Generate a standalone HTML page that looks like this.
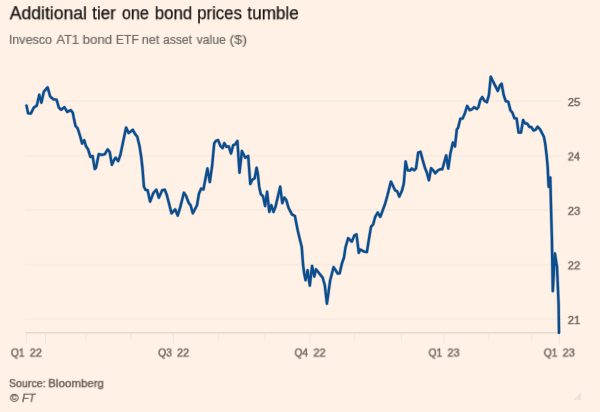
<!DOCTYPE html>
<html><head><meta charset="utf-8"><title>Additional tier one bond prices tumble</title>
<style>
html,body{margin:0;padding:0;}
body{width:600px;height:412px;background:#fff1e5;overflow:hidden;position:relative;font-family:"Liberation Sans",sans-serif;}
span{position:absolute;left:0;top:0;display:block;line-height:20px;white-space:nowrap;transform-origin:0 0;}
.t{font-size:17.6px;color:#141211;-webkit-text-stroke:0.25px #141211;}
.s{font-size:12.1px;color:#6e6863;-webkit-text-stroke:0.2px #6e6863;}
.lab{font-size:10.7px;color:#6b645f;-webkit-text-stroke:0.4px #6b645f;}
.src{font-size:11.7px;color:#6b645f;-webkit-text-stroke:0.45px #6b645f;}
.ft{font-size:11.6px;color:#6b645f;-webkit-text-stroke:0.35px #6b645f;font-style:italic;}
svg{position:absolute;left:0;top:0;}
.g{stroke:#f8eade;stroke-width:1.6;}
.ax{stroke:#e7dace;stroke-width:1.4;}
.tk{stroke:#f2e5d9;stroke-width:1;}
.ln{fill:none;stroke:#0c4d8d;stroke-width:2.4;stroke-linejoin:round;stroke-linecap:round;}
</style></head>
<body>
<svg width="600" height="412" viewBox="0 0 600 412">
<line x1="25" x2="562" y1="101.3" y2="101.3" class="g"/>
<line x1="25" x2="562" y1="155.7" y2="155.7" class="g"/>
<line x1="25" x2="562" y1="210.1" y2="210.1" class="g"/>
<line x1="25" x2="562" y1="264.6" y2="264.6" class="g"/>
<line x1="25" x2="562" y1="319.2" y2="319.2" class="g"/>
<line x1="25" x2="560" y1="332.7" y2="332.7" class="ax"/>
<line x1="26.3" x2="26.3" y1="332.7" y2="343.7" class="tk"/>
<line x1="45.5" x2="45.5" y1="332.7" y2="343.7" class="tk"/>
<line x1="173.3" x2="173.3" y1="332.7" y2="343.7" class="tk"/>
<line x1="310" x2="310" y1="332.7" y2="343.7" class="tk"/>
<line x1="444" x2="444" y1="332.7" y2="343.7" class="tk"/>
<line x1="559.3" x2="559.3" y1="332.7" y2="343.7" class="tk"/>
<line x1="86" x2="86" y1="332.7" y2="340.7" class="tk"/>
<line x1="130.7" x2="130.7" y1="332.7" y2="340.7" class="tk"/>
<line x1="218.3" x2="218.3" y1="332.7" y2="340.7" class="tk"/>
<line x1="265" x2="265" y1="332.7" y2="340.7" class="tk"/>
<line x1="354.3" x2="354.3" y1="332.7" y2="340.7" class="tk"/>
<line x1="401.5" x2="401.5" y1="332.7" y2="340.7" class="tk"/>
<line x1="489" x2="489" y1="332.7" y2="340.7" class="tk"/>
<line x1="531.7" x2="531.7" y1="332.7" y2="340.7" class="tk"/>
<path d="M26.5,105.6 L28.1,113.3 L30.9,113.5 L33.7,107.7 L36.8,105.5 L39.3,94.8 L41.4,102.7 L43.8,91.8 L47.6,87.4 L50.2,96.5 L53.5,99.3 L56.5,99.6 L58.9,107.7 L61.0,109.7 L64.4,107.2 L67.2,111.9 L70.8,110.2 L72.8,112.7 L73.7,117.5 L75.5,126.0 L77.6,128.3 L80.1,136.0 L82.1,143.5 L84.2,140.2 L85.9,146.0 L88.1,149.4 L90.4,156.9 L92.6,156.1 L94.8,169.0 L96.0,167.8 L98.8,154.1 L101.8,154.9 L104.8,154.2 L107.7,149.4 L109.7,151.9 L111.9,164.8 L113.9,160.3 L115.6,157.7 L118.2,161.1 L120.3,155.2 L126.1,127.6 L128.6,133.1 L132.8,129.8 L135.3,134.3 L137.3,136.8 L139.5,146.0 L141.2,156.9 L142.5,168.5 L143.9,186.6 L145.4,189.8 L147.6,190.2 L150.1,201.6 L153.5,192.7 L156.3,189.7 L158.8,197.7 L162.2,190.2 L164.8,189.8 L166.9,195.2 L171.5,213.3 L175.2,209.4 L177.7,215.6 L180.3,206.9 L183.9,192.7 L186.1,196.0 L188.6,202.7 L190.6,205.3 L192.8,213.3 L197.0,205.3 L199.0,193.5 L201.2,188.5 L203.4,189.5 L207.4,168.5 L209.8,182.0 L212.1,166.0 L214.2,143.4 L215.9,140.9 L218.1,140.1 L220.4,145.9 L222.6,148.1 L224.3,143.1 L226.5,146.8 L228.8,146.4 L231.0,153.5 L233.2,145.1 L235.2,144.3 L237.4,140.9 L239.5,172.7 L241.9,151.0 L245.2,157.7 L248.2,156.0 L250.3,184.0 L252.4,179.6 L254.7,178.3 L256.6,167.7 L257.8,173.6 L259.2,186.7 L260.8,194.2 L263.1,196.4 L265.1,206.0 L267.1,191.8 L269.3,211.9 L271.3,205.2 L273.5,211.9 L275.5,206.8 L280.2,186.7 L282.3,203.1 L284.3,197.6 L286.3,200.1 L288.5,207.7 L291.9,214.4 L294.9,216.0 L297.7,230.3 L300.5,242.0 L301.7,246.7 L303.1,265.1 L304.2,273.5 L305.6,280.2 L307.6,270.2 L309.8,285.6 L312.1,266.0 L314.3,276.5 L316.0,269.3 L319.3,273.5 L322.7,277.7 L324.8,285.2 L326.9,303.7 L330.2,280.2 L333.6,267.1 L337.7,273.5 L339.7,273.2 L341.9,263.5 L344.0,257.5 L345.4,247.8 L348.1,238.2 L351.8,241.6 L354.3,235.6 L356.5,234.4 L358.8,252.8 L360.2,249.5 L364.3,251.6 L366.9,252.0 L368.9,239.4 L371.0,226.9 L373.2,224.3 L375.2,216.8 L377.7,212.6 L380.3,216.8 L382.8,210.1 L385.2,203.5 L387.5,195.3 L390.9,181.6 L395.1,190.3 L397.1,191.1 L399.3,196.6 L401.8,191.1 L403.8,183.6 L405.6,161.5 L407.6,170.2 L410.2,170.5 L411.8,168.5 L414.3,170.2 L416.0,168.5 L418.2,152.6 L420.5,151.8 L422.7,160.1 L424.9,167.7 L426.9,172.7 L428.9,180.2 L431.1,168.2 L433.3,170.5 L435.3,173.2 L437.8,170.5 L440.0,169.3 L442.3,169.3 L446.2,155.4 L448.3,168.5 L450.4,153.4 L452.9,142.5 L455.0,146.4 L456.8,129.5 L458.1,127.8 L460.4,118.6 L462.6,118.6 L465.1,112.7 L467.1,106.0 L469.8,110.2 L471.8,109.4 L474.3,107.2 L476.9,108.9 L478.5,106.9 L480.2,100.2 L482.2,97.1 L484.4,100.7 L486.9,102.2 L488.9,95.1 L490.8,76.7 L492.8,80.9 L495.3,85.9 L497.8,90.9 L500.0,85.4 L501.6,83.7 L503.7,95.1 L505.7,101.0 L508.3,101.8 L510.4,110.2 L512.4,112.7 L514.5,118.3 L516.6,118.4 L518.6,132.5 L521.0,132.5 L523.1,120.0 L525.2,123.5 L527.0,123.4 L529.5,127.0 L531.2,127.0 L533.6,130.5 L535.7,129.6 L537.6,126.7 L540.1,129.4 L542.2,133.5 L543.9,136.8 L545.2,143.5 L546.6,155.2 L547.7,167.0 L548.6,186.8 L550.3,177.5 L551.1,210.2 L551.9,239.0 L552.8,291.1 L554.9,253.4 L557.0,266.8 L558.6,304.0 L559.0,332.7" class="ln" style="stroke-width:3.6;stroke-opacity:0.3"/>
<path d="M26.5,105.6 L28.1,113.3 L30.9,113.5 L33.7,107.7 L36.8,105.5 L39.3,94.8 L41.4,102.7 L43.8,91.8 L47.6,87.4 L50.2,96.5 L53.5,99.3 L56.5,99.6 L58.9,107.7 L61.0,109.7 L64.4,107.2 L67.2,111.9 L70.8,110.2 L72.8,112.7 L73.7,117.5 L75.5,126.0 L77.6,128.3 L80.1,136.0 L82.1,143.5 L84.2,140.2 L85.9,146.0 L88.1,149.4 L90.4,156.9 L92.6,156.1 L94.8,169.0 L96.0,167.8 L98.8,154.1 L101.8,154.9 L104.8,154.2 L107.7,149.4 L109.7,151.9 L111.9,164.8 L113.9,160.3 L115.6,157.7 L118.2,161.1 L120.3,155.2 L126.1,127.6 L128.6,133.1 L132.8,129.8 L135.3,134.3 L137.3,136.8 L139.5,146.0 L141.2,156.9 L142.5,168.5 L143.9,186.6 L145.4,189.8 L147.6,190.2 L150.1,201.6 L153.5,192.7 L156.3,189.7 L158.8,197.7 L162.2,190.2 L164.8,189.8 L166.9,195.2 L171.5,213.3 L175.2,209.4 L177.7,215.6 L180.3,206.9 L183.9,192.7 L186.1,196.0 L188.6,202.7 L190.6,205.3 L192.8,213.3 L197.0,205.3 L199.0,193.5 L201.2,188.5 L203.4,189.5 L207.4,168.5 L209.8,182.0 L212.1,166.0 L214.2,143.4 L215.9,140.9 L218.1,140.1 L220.4,145.9 L222.6,148.1 L224.3,143.1 L226.5,146.8 L228.8,146.4 L231.0,153.5 L233.2,145.1 L235.2,144.3 L237.4,140.9 L239.5,172.7 L241.9,151.0 L245.2,157.7 L248.2,156.0 L250.3,184.0 L252.4,179.6 L254.7,178.3 L256.6,167.7 L257.8,173.6 L259.2,186.7 L260.8,194.2 L263.1,196.4 L265.1,206.0 L267.1,191.8 L269.3,211.9 L271.3,205.2 L273.5,211.9 L275.5,206.8 L280.2,186.7 L282.3,203.1 L284.3,197.6 L286.3,200.1 L288.5,207.7 L291.9,214.4 L294.9,216.0 L297.7,230.3 L300.5,242.0 L301.7,246.7 L303.1,265.1 L304.2,273.5 L305.6,280.2 L307.6,270.2 L309.8,285.6 L312.1,266.0 L314.3,276.5 L316.0,269.3 L319.3,273.5 L322.7,277.7 L324.8,285.2 L326.9,303.7 L330.2,280.2 L333.6,267.1 L337.7,273.5 L339.7,273.2 L341.9,263.5 L344.0,257.5 L345.4,247.8 L348.1,238.2 L351.8,241.6 L354.3,235.6 L356.5,234.4 L358.8,252.8 L360.2,249.5 L364.3,251.6 L366.9,252.0 L368.9,239.4 L371.0,226.9 L373.2,224.3 L375.2,216.8 L377.7,212.6 L380.3,216.8 L382.8,210.1 L385.2,203.5 L387.5,195.3 L390.9,181.6 L395.1,190.3 L397.1,191.1 L399.3,196.6 L401.8,191.1 L403.8,183.6 L405.6,161.5 L407.6,170.2 L410.2,170.5 L411.8,168.5 L414.3,170.2 L416.0,168.5 L418.2,152.6 L420.5,151.8 L422.7,160.1 L424.9,167.7 L426.9,172.7 L428.9,180.2 L431.1,168.2 L433.3,170.5 L435.3,173.2 L437.8,170.5 L440.0,169.3 L442.3,169.3 L446.2,155.4 L448.3,168.5 L450.4,153.4 L452.9,142.5 L455.0,146.4 L456.8,129.5 L458.1,127.8 L460.4,118.6 L462.6,118.6 L465.1,112.7 L467.1,106.0 L469.8,110.2 L471.8,109.4 L474.3,107.2 L476.9,108.9 L478.5,106.9 L480.2,100.2 L482.2,97.1 L484.4,100.7 L486.9,102.2 L488.9,95.1 L490.8,76.7 L492.8,80.9 L495.3,85.9 L497.8,90.9 L500.0,85.4 L501.6,83.7 L503.7,95.1 L505.7,101.0 L508.3,101.8 L510.4,110.2 L512.4,112.7 L514.5,118.3 L516.6,118.4 L518.6,132.5 L521.0,132.5 L523.1,120.0 L525.2,123.5 L527.0,123.4 L529.5,127.0 L531.2,127.0 L533.6,130.5 L535.7,129.6 L537.6,126.7 L540.1,129.4 L542.2,133.5 L543.9,136.8 L545.2,143.5 L546.6,155.2 L547.7,167.0 L548.6,186.8 L550.3,177.5 L551.1,210.2 L551.9,239.0 L552.8,291.1 L554.9,253.4 L557.0,266.8 L558.6,304.0 L559.0,332.7" class="ln"/>
<path d="M573.5,400 L581,400 L581,392 Z" fill="#eee3da"/>
</svg>
<h1 style="margin:0;font-weight:normal"><span class="t" style="transform:translate(9.70px,3.25px) scaleX(1.0007) perspective(1000px) rotateX(0.01deg)">Additional</span> <span class="t" style="transform:translate(92.16px,3.25px) scaleX(0.9708) perspective(1000px) rotateX(0.01deg)">tier</span> <span class="t" style="transform:translate(121.94px,3.25px) scaleX(0.9204) perspective(1000px) rotateX(0.01deg)">one</span> <span class="t" style="transform:translate(154.74px,3.25px) scaleX(0.9611) perspective(1000px) rotateX(0.01deg)">bond</span> <span class="t" style="transform:translate(197.15px,3.25px) scaleX(0.9538) perspective(1000px) rotateX(0.01deg)">prices</span> <span class="t" style="transform:translate(247.36px,3.25px) scaleX(0.9750) perspective(1000px) rotateX(0.01deg)">tumble</span></h1>
<p style="margin:0"><span class="s" style="transform:translate(8.87px,29.9px) scaleX(1.0335) perspective(1000px) rotateX(0.01deg)">Invesco</span> <span class="s" style="transform:translate(56.40px,29.9px) scaleX(1.0651) perspective(1000px) rotateX(0.01deg)">AT1</span> <span class="s" style="transform:translate(82.68px,29.9px) scaleX(1.0902) perspective(1000px) rotateX(0.01deg)">bond</span> <span class="s" style="transform:translate(115.79px,29.9px) scaleX(1.0093) perspective(1000px) rotateX(0.01deg)">ETF</span> <span class="s" style="transform:translate(141.82px,29.9px) scaleX(1.0438) perspective(1000px) rotateX(0.01deg)">net</span> <span class="s" style="transform:translate(163.10px,29.9px) scaleX(1.0035) perspective(1000px) rotateX(0.01deg)">asset</span> <span class="s" style="transform:translate(196.60px,29.9px) scaleX(1.0105) perspective(1000px) rotateX(0.01deg)">value</span> <span class="s" style="transform:translate(229.51px,29.9px) scaleX(1.1852) perspective(1000px) rotateX(0.01deg)">($)</span></p>
<div><span class="lab" style="transform:translate(10.86px,342.53px) scaleX(0.9673) perspective(1000px) rotateX(0.01deg)">Q1</span> <span class="lab" style="transform:translate(29.75px,342.53px) scaleX(1.0133) perspective(1000px) rotateX(0.01deg)">22</span> <span class="lab" style="transform:translate(158.16px,342.53px) scaleX(0.9673) perspective(1000px) rotateX(0.01deg)">Q3</span> <span class="lab" style="transform:translate(177.05px,342.53px) scaleX(1.0133) perspective(1000px) rotateX(0.01deg)">22</span> <span class="lab" style="transform:translate(294.56px,342.53px) scaleX(0.9500) perspective(1000px) rotateX(0.01deg)">Q4</span> <span class="lab" style="transform:translate(313.45px,342.53px) scaleX(1.0133) perspective(1000px) rotateX(0.01deg)">22</span> <span class="lab" style="transform:translate(428.56px,342.53px) scaleX(0.9673) perspective(1000px) rotateX(0.01deg)">Q1</span> <span class="lab" style="transform:translate(447.45px,342.53px) scaleX(1.0133) perspective(1000px) rotateX(0.01deg)">23</span> <span class="lab" style="transform:translate(543.76px,342.53px) scaleX(0.9673) perspective(1000px) rotateX(0.01deg)">Q1</span> <span class="lab" style="transform:translate(562.65px,342.53px) scaleX(1.0133) perspective(1000px) rotateX(0.01deg)">23</span> <span class="lab" style="transform:translate(567.84px,92.03px) scaleX(1.0400) perspective(1000px) rotateX(0.01deg)">25</span> <span class="lab" style="transform:translate(567.85px,146.43px) scaleX(1.0174) perspective(1000px) rotateX(0.01deg)">24</span> <span class="lab" style="transform:translate(567.84px,200.83px) scaleX(1.0400) perspective(1000px) rotateX(0.01deg)">23</span> <span class="lab" style="transform:translate(567.84px,255.33px) scaleX(1.0400) perspective(1000px) rotateX(0.01deg)">22</span> <span class="lab" style="transform:translate(567.84px,309.93px) scaleX(1.0400) perspective(1000px) rotateX(0.01deg)">21</span></div>
<div><span class="src" style="transform:translate(8.97px,373.14px) scaleX(0.9096) perspective(1000px) rotateX(0.01deg)">Source:</span> <span class="src" style="transform:translate(48.26px,373.14px) scaleX(0.9846) perspective(1000px) rotateX(0.01deg)">Bloomberg</span></div>
<div><span class="ft" style="transform:translate(9.75px,387.83px) scaleX(1.0118) perspective(1000px) rotateX(0.01deg)">©</span> <span class="ft" style="transform:translate(22.07px,387.83px) scaleX(0.9356) perspective(1000px) rotateX(0.01deg)">FT</span></div>
</body></html>
